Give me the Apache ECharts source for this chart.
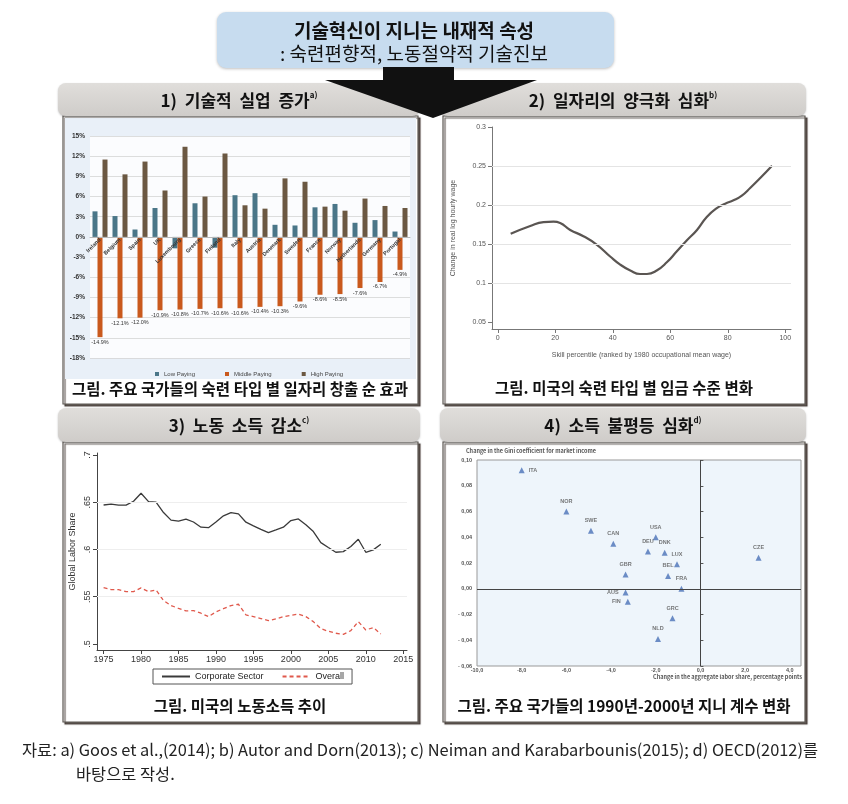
<!DOCTYPE html>
<html><head><meta charset="utf-8">
<script src="https://cdn.jsdelivr.net/npm/echarts@6/dist/echarts.min.js"></script>
<style>html,body{margin:0;padding:0;background:#fff}#c{width:848px;height:804px}</style>
</head><body><div id="c"></div>
<script>
// ---------- Panel 1: net job creation by skill type ----------
const countries = ['Ireland','Belgium','Spain','UK','Luxembourg','Greece','Finland','Italy','Austria','Denmark','Sweden','France','Norway','Netherlands','Germany','Portugal'];
const lowPaying = [3.8,3.1,1.1,4.3,-1.7,5.0,-1.6,6.2,6.5,1.8,1.7,4.4,4.9,2.1,2.5,0.8];
const middlePaying = [-14.9,-12.1,-12.0,-10.9,-10.8,-10.7,-10.6,-10.6,-10.4,-10.3,-9.6,-8.6,-8.5,-7.6,-6.7,-4.9];
const highPaying = [11.5,9.3,11.2,6.9,13.4,6.0,12.4,4.7,4.2,8.7,8.2,4.5,3.9,5.7,4.6,4.3];

// ---------- Panel 2: wage change by skill percentile ----------
const skillPct = [4.5,11.3,15.9,19.4,21.7,25.2,29.8,34.5,39.1,42.6,46.1,49.5,51.9,55.3,58.8,62.3,65.8,69.3,72.7,76.2,79.1,82.0,84.9,87.8,91.3,95.4];
const wageChange = [0.163,0.173,0.178,0.1786,0.177,0.168,0.160,0.149,0.134,0.1235,0.116,0.1115,0.1115,0.116,0.1265,0.1406,0.1547,0.168,0.1846,0.196,0.2017,0.206,0.212,0.2218,0.2346,0.2504];
const skillTicks = [0,20,40,60,80,100];
const wageTicks = [0.05,0.1,0.15,0.2,0.25,0.3];

// ---------- Panel 3: global labor share ----------
const years = [1975,1976,1977,1978,1979,1980,1981,1982,1983,1984,1985,1986,1987,1988,1989,1990,1991,1992,1993,1994,1995,1996,1997,1998,1999,2000,2001,2002,2003,2004,2005,2006,2007,2008,2009,2010,2011,2012];
const corporateSector = [0.647,0.648,0.6468,0.6468,0.651,0.6594,0.6506,0.650,0.639,0.631,0.630,0.632,0.629,0.6235,0.623,0.629,0.6355,0.639,0.6376,0.6288,0.6249,0.6213,0.6178,0.6206,0.6235,0.6305,0.6323,0.626,0.6189,0.6072,0.602,0.597,0.5977,0.603,0.6108,0.597,0.5995,0.6055];
const overallShare = [0.5596,0.5575,0.5575,0.5554,0.5554,0.5593,0.5554,0.5571,0.5459,0.5406,0.5377,0.5349,0.5353,0.5325,0.5289,0.5339,0.5374,0.5406,0.542,0.5307,0.5289,0.5268,0.5247,0.5265,0.5289,0.5303,0.5317,0.5289,0.5236,0.5162,0.5134,0.5113,0.5102,0.5141,0.5236,0.5148,0.5173,0.5106];
const yearTicks = [1975,1980,1985,1990,1995,2000,2005,2010,2015];
const shareTicks = [0.5,0.55,0.6,0.65,0.7];

// ---------- Panel 4: Gini change vs labor share change ----------
const giniCountries = ['ITA','NOR','SWE','CAN','USA','DEU','DNK','LUX','BEL','FRA','GBR','AUS','FIN','GRC','NLD','CZE'];
const laborShareChange = [-8.0,-6.0,-4.9,-3.9,-2.0,-2.35,-1.6,-1.05,-1.45,-0.85,-3.35,-3.35,-3.25,-1.25,-1.9,2.6];
const giniChange = [0.092,0.060,0.045,0.035,0.040,0.029,0.028,0.019,0.010,0.000,0.011,-0.003,-0.010,-0.023,-0.039,0.024];
const laborTicks = [-10,-8,-6,-4,-2,0,2,4];

const KR = '"Noto Sans CJK KR", sans-serif';
const LAT = '"Liberation Sans", Arial, sans-serif';

const labelPlace = {ITA:'right', AUS:'left', FIN:'left'};
const scatterData = giniCountries.map((c,i)=>({
  name:c, value:[laborShareChange[i], giniChange[i]],
  label:{position: labelPlace[c] || 'top'}
}));

const chart = echarts.init(document.getElementById('c'), null, {renderer:'canvas'});

function header(x,y,w,h,main,sup){
  return [
    {type:'rect', z:5, shape:{x:x,y:y,width:w,height:h,r:8},
     style:{fill:{type:'linear',x:0,y:0,x2:0,y2:1,colorStops:[{offset:0,color:'#e0dedb'},{offset:1,color:'#cfccc9'}]},
            shadowBlur:2, shadowColor:'rgba(0,0,0,0.25)', shadowOffsetY:1}},
    {type:'text', z:6, style:{x:x+w/2, y:y+h/2+1, align:'center', verticalAlign:'middle',
      text:'{m|'+main+'}{s|'+sup+'}',
      rich:{m:{fontFamily:KR,fontSize:17,fontWeight:'bold',fill:'#111',lineHeight:20},
            s:{fontFamily:KR,fontSize:8,fontWeight:'bold',fill:'#111',verticalAlign:'top',lineHeight:12}}}}
  ];
}
function panel(x,y,w,h){
  return {type:'rect', z:-20, shape:{x:x,y:y,width:w,height:h},
    style:{fill:'#fff', stroke:'#5d5853', lineWidth:1.2, shadowBlur:1, shadowOffsetX:2, shadowOffsetY:2, shadowColor:'rgba(60,50,45,0.8)'}};
}
function caption(x,y,t){
  return {type:'text', z:6, style:{x:x,y:y,align:'center',verticalAlign:'middle',text:t,
    fontFamily:KR,fontSize:15.5,fontWeight:'bold',fill:'#111'}};
}

const graphics = [
  // top box
  {type:'rect', z:5, shape:{x:217,y:12,width:397,height:56,r:9},
   style:{fill:'#c7dcef', shadowBlur:3, shadowColor:'rgba(0,0,0,0.25)', shadowOffsetY:1}},
  {type:'text', z:6, style:{x:414,y:31,align:'center',verticalAlign:'middle',text:'기술혁신이 지니는 내재적 속성',
    fontFamily:KR,fontSize:19,fontWeight:'bold',fill:'#111'}},
  {type:'text', z:6, style:{x:414,y:54,align:'center',verticalAlign:'middle',text:': 숙련편향적, 노동절약적 기술진보',
    fontFamily:KR,fontSize:19,fill:'#111'}},
  // panels
  panel(63,116,355,288), panel(443,116,362,288), panel(63,442,355,280), panel(443,442,362,280),
  {type:'rect', z:-15, shape:{x:65,y:118,width:351,height:261}, style:{fill:'#e9f0f8'}},
  ...header(58,83,362,33,'1)  기술적  실업  증가','a)'),
  ...header(440,83,366,33,'2)  일자리의  양극화  심화','b)'),
  ...header(58,408,362,34,'3)  노동  소득  감소','c)'),
  ...header(440,408,366,34,'4)  소득  불평등  심화','d)'),
  caption(240,389,'그림. 주요 국가들의 숙련 타입 별 일자리 창출 순 효과'),
  caption(624,388,'그림. 미국의 숙련 타입 별 임금 수준 변화'),
  caption(240,706,'그림. 미국의 노동소득 추이'),
  caption(624,706,'그림. 주요 국가들의 1990년-2000년 지니 계수 변화'),
  // arrow
  {type:'polygon', z:50, shape:{points:[[383,67],[454,67],[454,80],[537,80],[433,118],[325,80],[383,80]]},
   style:{fill:'#111'}},
  // panel 4 axis titles
  {type:'text', z:6, style:{x:466,y:451,align:'left',verticalAlign:'middle',text:'Change in the Gini coefficient for market income',
    fontFamily:KR,fontSize:5.5,fontWeight:'bold',fill:'#555'}},
  {type:'text', z:6, style:{x:802,y:677,align:'right',verticalAlign:'middle',text:'Change in the aggregate labor share, percentage points',
    fontFamily:KR,fontSize:5.5,fontWeight:'bold',fill:'#555'}},
  // footer
  {type:'text', z:6, style:{x:22,y:750,align:'left',verticalAlign:'middle',
    text:'자료: a) Goos et al.,(2014); b) Autor and Dorn(2013); c) Neiman and Karabarbounis(2015); d) OECD(2012)를',
    fontFamily:KR,fontSize:16.4,fill:'#222'}},
  {type:'text', z:6, style:{x:76,y:774,align:'left',verticalAlign:'middle',text:'바탕으로 작성.',
    fontFamily:KR,fontSize:16.4,fill:'#222'}}
];

const option = {
  animation:false,
  backgroundColor:'#fff',
  textStyle:{fontFamily:LAT},
  graphic:{elements:graphics},
  legend:[
    {data:['Low Paying','Middle Paying','High Paying'], left:150, top:366, itemWidth:4, itemHeight:4, itemGap:30,
     icon:'rect', textStyle:{fontSize:6,color:'#444',fontFamily:LAT}},
    {data:['Corporate Sector','Overall'], left:153, top:669, orient:'horizontal', itemWidth:28, itemHeight:8, itemGap:18,
     borderColor:'#555', borderWidth:1, padding:[3,8,3,8], backgroundColor:'#fff',
     itemStyle:{opacity:0},
     textStyle:{fontSize:9,color:'#222',fontFamily:LAT}}
  ],
  grid:[
    {left:90, top:136, width:320, height:222, show:true, backgroundColor:'#fbfcfe', borderWidth:0},
    {left:492, top:127, width:299, height:202},
    {left:97, top:453, width:310, height:197},
    {left:477, top:460, width:324, height:206, show:true, backgroundColor:'#eef5fb', borderColor:'#999', borderWidth:1}
  ],
  xAxis:[
    {type:'category', gridIndex:0, data:countries, z:10, position:'bottom', offset:-121.1,
     axisLine:{onZero:false, lineStyle:{color:'#b8b8b8'}}, axisTick:{show:false},
     axisLabel:{interval:0, rotate:45, fontSize:5.5, fontWeight:'bold', color:'#333', margin:2}},
    {type:'value', gridIndex:1, min:-2, max:102,
     axisLine:{onZero:false, lineStyle:{color:'#777'}}, axisTick:{length:4, lineStyle:{color:'#777'}, customValues:skillTicks},
     axisLabel:{fontSize:7, color:'#555', margin:6, customValues:skillTicks}, splitLine:{show:false},
     name:'Skill percentile (ranked by 1980 occupational mean wage)', nameLocation:'middle', nameGap:23,
     nameTextStyle:{fontSize:7, color:'#555'}},
    {type:'value', gridIndex:2, min:1974.12, max:2015.5,
     axisLine:{onZero:false, lineStyle:{color:'#444'}}, axisTick:{length:4, lineStyle:{color:'#444'}, customValues:yearTicks},
     axisLabel:{fontSize:9, color:'#333', margin:5, customValues:yearTicks, formatter:v=>String(Math.round(v))}, splitLine:{show:false}},
    {type:'value', gridIndex:3, min:-10, max:4.5,
     axisLine:{show:false, onZero:false}, axisTick:{show:false},
     axisLabel:{fontSize:5.5, fontWeight:'bold', color:'#555', margin:1, customValues:laborTicks,
       formatter:v=>v.toFixed(1).replace('.',',')}, splitLine:{show:false}}
  ],
  yAxis:[
    {type:'value', gridIndex:0, min:-18, max:15, interval:3,
     axisLine:{show:false}, axisTick:{show:false},
     axisLabel:{fontSize:6.5, fontWeight:'bold', color:'#333', formatter:'{value}%', margin:5},
     splitLine:{lineStyle:{color:'#d4d4d4', width:0.8}}},
    {type:'value', gridIndex:1, min:0.041, max:0.3,
     axisLine:{show:true, onZero:false, lineStyle:{color:'#777'}}, axisTick:{show:true, length:4, lineStyle:{color:'#777'}, customValues:wageTicks},
     axisLabel:{fontSize:7, color:'#555', margin:6, customValues:wageTicks, formatter:v=>String(+v.toFixed(2))},
     splitLine:{show:false},
     name:'Change in real log hourly wage', nameLocation:'middle', nameGap:35, nameTextStyle:{fontSize:7, color:'#555'}},
    {type:'value', gridIndex:2, min:0.4936, max:0.702,
     axisLine:{show:true, onZero:false, lineStyle:{color:'#444'}}, axisTick:{show:true, length:4, lineStyle:{color:'#444'}, customValues:shareTicks},
     axisLabel:{fontSize:9, color:'#333', rotate:90, margin:5, customValues:shareTicks,
       formatter:v=>v.toFixed(2).replace(/0+$/,'').replace(/^0/,'')},
     splitLine:{show:false},
     name:'Global Labor Share', nameLocation:'middle', nameGap:20, nameTextStyle:{fontSize:9, color:'#333'}},
    {type:'value', gridIndex:3, min:-0.06, max:0.10, interval:0.02, position:'left',
     axisLine:{show:false, onZero:false}, axisTick:{show:false},
     axisLabel:{fontSize:5.5, fontWeight:'bold', color:'#555', margin:5,
       formatter:v=>(v< -1e-9?'- ':'')+Math.abs(v).toFixed(2).replace('.',',')},
     splitLine:{show:false}},
    {type:'value', gridIndex:3, min:-0.06, max:0.10, interval:0.02, position:'left', offset:-223.4,
     axisLine:{show:false, onZero:false}, axisTick:{show:true, inside:true, length:3, lineStyle:{color:'#555'}},
     axisLabel:{show:false}, splitLine:{show:false}}
  ],
  series:[
    {name:'Low Paying', type:'bar', xAxisIndex:0, yAxisIndex:0, data:lowPaying, barWidth:5, barGap:'0%',
     itemStyle:{color:'#4a7688'}},
    {name:'Middle Paying', type:'bar', xAxisIndex:0, yAxisIndex:0, data:middlePaying, barWidth:5, barGap:'0%',
     itemStyle:{color:'#c9591d'},
     label:{show:true, position:'bottom', distance:2, fontSize:5.5, color:'#333', formatter:p=>p.value.toFixed(1)+'%'}},
    {name:'High Paying', type:'bar', xAxisIndex:0, yAxisIndex:0, data:highPaying, barWidth:5, barGap:'0%',
     itemStyle:{color:'#6b5842'}},
    {name:'wage', type:'line', xAxisIndex:1, yAxisIndex:1, data:skillPct.map((x,i)=>[x,wageChange[i]]),
     smooth:0.5, symbol:'none', lineStyle:{color:'#5a5552', width:2.2},
     markLine:{silent:true, symbol:'none', label:{show:false}, lineStyle:{color:'#e4e4e4', width:1, type:'solid'},
       data:wageTicks.slice(1,5).map(v=>({yAxis:v}))}},
    {name:'Corporate Sector', type:'line', xAxisIndex:2, yAxisIndex:2, data:years.map((y,i)=>[y,corporateSector[i]]),
     symbol:'none', itemStyle:{color:'#3a3a3a'}, lineStyle:{color:'#3a3a3a', width:1.3},
     markLine:{silent:true, symbol:'none', label:{show:false}, lineStyle:{color:'#eeeeee', width:1, type:'solid'},
       data:shareTicks.slice(1,4).map(v=>({yAxis:v}))}},
    {name:'Overall', type:'line', xAxisIndex:2, yAxisIndex:2, data:years.map((y,i)=>[y,overallShare[i]]),
     symbol:'none', itemStyle:{color:'#e0594c'}, lineStyle:{color:'#e0594c', width:1.3, type:[4,3]}},
    {name:'gini', type:'scatter', xAxisIndex:3, yAxisIndex:3, data:scatterData,
     symbol:'triangle', symbolSize:6, itemStyle:{color:'#4a72b8'},
     label:{show:true, formatter:p=>p.name, fontSize:5.5, fontWeight:'bold', color:'#555', distance:4},
     markLine:{silent:true, symbol:'none', label:{show:false}, lineStyle:{color:'#444', width:1, type:'solid'},
       data:[{xAxis:0},{yAxis:0}]}}
  ]
};
chart.setOption(option);
</script>
</body></html>
